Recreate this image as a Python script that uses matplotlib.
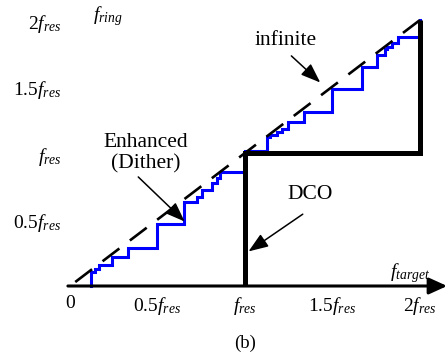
import matplotlib
matplotlib.use("Agg")
import matplotlib.pyplot as plt
import numpy as np

plt.rcParams['font.family'] = ['Liberation Serif', 'DejaVu Serif']
plt.rcParams['mathtext.fontset'] = 'custom'
plt.rcParams['mathtext.rm'] = 'Liberation Serif'
plt.rcParams['mathtext.it'] = 'Liberation Serif:italic'

# ---- data (in units of f_res) ----
ideal_x = [0.03, 2.03]
ideal_y = [0.03, 2.03]

dco_x = [1.0, 1.0, 2.0, 2.0]
dco_y = [0.0, 1.0, 1.0, 2.0]

# enhanced (dither) staircase: x where step occurs, new level after step
dith_x = [0.118, 0.143, 0.165, 0.238, 0.331, 0.497, 0.654, 0.726, 0.754, 0.810,
          0.838, 0.857, 1.000, 1.124, 1.143, 1.181, 1.210, 1.247, 1.337, 1.496,
          1.667, 1.756, 1.800, 1.813, 1.838, 1.876, 2.000]
dith_y = [0.107, 0.128, 0.158, 0.216, 0.288, 0.466, 0.632, 0.669, 0.722, 0.774,
          0.812, 0.857, 1.015, 1.118, 1.135, 1.160, 1.178, 1.235, 1.306, 1.481,
          1.649, 1.737, 1.780, 1.800, 1.825, 1.874, 2.000]

xtick_vals = [0, 0.5, 1.0, 1.5, 2.0]
xtick_labels = ['0', r'$0.5f_{res}$', r'$f_{res}$', r'$1.5f_{res}$', r'$2f_{res}$']
ytick_vals = [0.5, 1.0, 1.5, 2.0]
ytick_labels = [r'$0.5f_{res}$', r'$f_{res}$', r'$1.5f_{res}$', r'$2f_{res}$']

# ---- layout: pixel mapping ----
W, H = 447, 360
x0px, y0px = 70, 286
sx, sy = 175.0, 133.0

fig = plt.figure(figsize=(W / 100, H / 100), dpi=100)
ax = fig.add_axes([0, 0, 1, 1])
ax.set_xlim(-x0px / sx, (W - x0px) / sx)
ax.set_ylim(-(H - y0px) / sy, y0px / sy)
ax.axis('off')

# staircase path
px = [dith_x[0]]
py = [0.0]
prev = 0.0
for xx, yy in zip(dith_x, dith_y):
    px += [xx, xx]
    py += [prev, yy]
    prev = yy
ax.plot(px, py, color='#0000ff', lw=2.2, solid_joinstyle='miter', zorder=3)

# ideal dashed line
ax.plot(ideal_x, ideal_y, color='black', lw=1.9, dashes=(8, 5), zorder=4)

# DCO thick line
ax.plot(dco_x, dco_y, color='black', lw=3.6, solid_joinstyle='miter',
        solid_capstyle='butt', zorder=5)

# axes with arrows
ax.annotate('', xy=(2.155, 0), xytext=(-0.012, 0),
            arrowprops=dict(arrowstyle='-|>,head_length=1.1,head_width=0.5',
                            color='black', lw=2.2, shrinkA=0, shrinkB=0))
ax.annotate('', xy=(0, 2.17), xytext=(0, -0.012),
            arrowprops=dict(arrowstyle='-|>,head_length=1.1,head_width=0.5',
                            color='black', lw=2.2, shrinkA=0, shrinkB=0))

fs = 14
for v, lab in zip(xtick_vals, xtick_labels):
    ax.text(v, -0.07, lab, ha='center', va='top', fontsize=fs)
for v, lab in zip(ytick_vals, ytick_labels):
    ax.text(-0.05, v - 0.03, lab, ha='right', va='center', fontsize=fs)

ax.text(0.13, 2.03, r'$f_{ring}$', ha='left', va='center', fontsize=fs)
ax.text(1.83, 0.10, r'$f_{target}$', ha='left', va='center', fontsize=fs)

# annotations
arrow_kw = dict(arrowstyle='-|>,head_length=1.2,head_width=0.45', color='black',
                lw=1.1, shrinkA=0, shrinkB=0)
ax.text(1.23, 1.845, 'infinite', ha='center', va='center', fontsize=15.5)
ax.annotate('', xy=(1.43, 1.53), xytext=(1.265, 1.73), arrowprops=arrow_kw)

ax.text(0.43, 1.08, 'Enhanced', ha='center', va='center', fontsize=15.5)
ax.text(0.43, 0.915, '(Dither)', ha='center', va='center', fontsize=15.5)
ax.annotate('', xy=(0.655, 0.485), xytext=(0.39, 0.82), arrowprops=arrow_kw)

ax.text(1.37, 0.685, 'DCO', ha='center', va='center', fontsize=15.5)
ax.annotate('', xy=(1.02, 0.26), xytext=(1.33, 0.54), arrowprops=arrow_kw)

ax.text(175 / sx, -(343 - y0px) / sy, '(b)', ha='center', va='center', fontsize=13.5)

fig.savefig('out.png', dpi=100)
